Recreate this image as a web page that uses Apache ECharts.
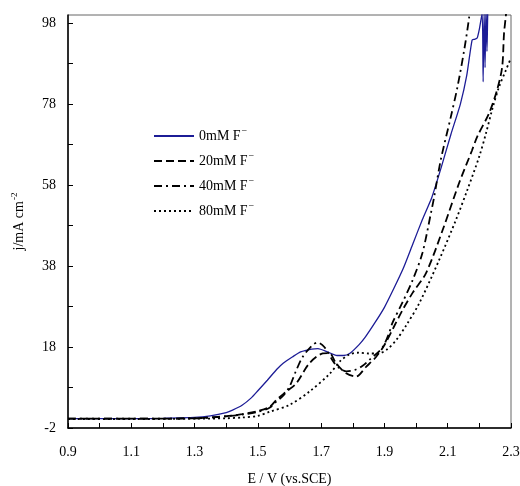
<!DOCTYPE html>
<html>
<head>
<meta charset="utf-8">
<script src="https://cdn.jsdelivr.net/npm/echarts@6/dist/echarts.min.js"></script>
<style>html,body{margin:0;padding:0;background:#fff}#c{width:520px;height:486px}</style>
</head>
<body>
<div id="c"></div>
<script>
// ---- data (E / V vs. SCE, j / mA cm^-2) ----
const names = ['0mM F', '20mM F', '40mM F', '80mM F'];
const xTickLabels = [0.9, 1.1, 1.3, 1.5, 1.7, 1.9, 2.1, 2.3];
const yTickLabels = [-2, 18, 38, 58, 78, 98];

const e0 = [0.9, 1.0, 1.1, 1.2, 1.3, 1.35, 1.4, 1.42, 1.45, 1.48, 1.5, 1.53, 1.56, 1.58, 1.61, 1.635, 1.67, 1.69, 1.72, 1.75, 1.77, 1.79, 1.82, 1.84, 1.87, 1.9, 1.93, 1.96, 1.99, 2.02, 2.05, 2.08, 2.11, 2.14, 2.16, 2.177, 2.185, 2.193, 2.2, 2.209, 2.212, 2.215, 2.218, 2.221, 2.224, 2.227, 2.23];
const j0 = [0.3, 0.3, 0.3, 0.4, 0.6, 1.0, 1.8, 2.4, 3.6, 5.5, 7.2, 9.8, 12.5, 14.0, 15.6, 16.8, 17.5, 17.6, 16.8, 15.9, 15.9, 16.4, 18.6, 20.5, 24.0, 27.8, 32.5, 37.5, 43.5, 49.5, 55.0, 62.5, 70.5, 78.0, 85.0, 93.8, 94.0, 94.3, 96.5, 100.5, 83.5, 101, 87, 102, 91, 102, 103];

const e20 = [0.9, 1.1, 1.3, 1.4, 1.45, 1.5, 1.537, 1.558, 1.59, 1.621, 1.663, 1.705, 1.726, 1.747, 1.779, 1.81, 1.842, 1.874, 1.9, 1.93, 1.957, 1.99, 2.031, 2.084, 2.136, 2.177, 2.193, 2.231, 2.256, 2.272, 2.278, 2.284, 2.287];
const j20 = [0.3, 0.3, 0.4, 0.9, 1.4, 2.2, 3.2, 4.9, 7.0, 9.0, 14.0, 16.4, 16.5, 14.0, 11.5, 10.7, 13.1, 15.6, 18.5, 23.0, 27.1, 31.5, 36.2, 46.9, 58.5, 66.6, 69.9, 75.8, 81.5, 87.1, 95.5, 100, 103];

const e40 = [0.9, 1.1, 1.3, 1.4, 1.45, 1.5, 1.537, 1.558, 1.58, 1.6, 1.62, 1.642, 1.673, 1.689, 1.71, 1.742, 1.758, 1.78, 1.805, 1.83, 1.852, 1.893, 1.915, 1.925, 1.957, 1.989, 2.02, 2.047, 2.057, 2.078, 2.11, 2.131, 2.152, 2.168, 2.172];
const j40 = [0.3, 0.3, 0.4, 0.9, 1.3, 2.0, 3.0, 4.5, 6.0, 8.2, 12.0, 15.6, 18.5, 19.1, 18.0, 14.0, 12.8, 12.0, 12.3, 13.3, 14.8, 17.8, 21.5, 23.9, 29.0, 34.5, 41.2, 51.1, 55.0, 64.2, 74.9, 82.3, 91.3, 99.6, 103];

const e80 = [0.9, 1.1, 1.3, 1.4, 1.45, 1.5, 1.537, 1.6, 1.663, 1.726, 1.76, 1.79, 1.82, 1.85, 1.88, 1.91, 1.94, 1.97, 2.01, 2.073, 2.126, 2.162, 2.199, 2.221, 2.24, 2.262, 2.284, 2.3];
const j80 = [0.2, 0.2, 0.3, 0.4, 0.6, 1.0, 2.0, 3.7, 7.0, 11.3, 14.5, 16.2, 16.6, 16.4, 16.4, 17.5, 20.0, 23.5, 28.8, 39.5, 49.4, 56.8, 64.9, 70.8, 76.5, 82.2, 86.4, 89.4];

const pairs = (xs, ys) => xs.map((x, i) => [x, ys[i]]);
const range = (a, b, s) => { const r = []; for (let v = a; v <= b + 1e-9; v += s) r.push(+v.toFixed(2)); return r; };

const FONT = '"Liberation Serif", "DejaVu Serif", serif';

const chart = echarts.init(document.getElementById('c'), null, { renderer: 'canvas' });
chart.setOption({
  backgroundColor: '#fff',
  animation: false,
  grid: { left: 68, right: 9, top: 15, bottom: 58, outerBoundsMode: 'none', containLabel: false,
    show: true, borderColor: '#666', borderWidth: 1, backgroundColor: 'transparent' },
  legend: {
    orient: 'vertical', left: 148, top: 121,
    itemWidth: 40, itemHeight: 14, itemGap: 8,
    data: names,
    itemStyle: { opacity: 0, borderWidth: 0 },
    formatter: n => n + '{sup|−}',
    textStyle: { fontFamily: FONT, fontSize: 14, color: '#000',
      rich: { sup: { fontFamily: FONT, fontSize: 10, color: '#000', verticalAlign: 'top', padding: [0, 0, 10, 1] } } }
  },
  xAxis: {
    type: 'value', min: 0.9, max: 2.3,
    name: 'E / V (vs.SCE)', nameLocation: 'middle', nameGap: 44,
    nameTextStyle: { fontFamily: FONT, fontSize: 14, color: '#000' },
    axisLine: { show: true, onZero: false, lineStyle: { color: '#000', width: 1.5 } },
    axisTick: { show: true, inside: true, length: 5, customValues: range(0.9, 2.3, 0.1), lineStyle: { color: '#000' } },
    axisLabel: { customValues: xTickLabels, margin: 17, fontFamily: FONT, fontSize: 14, color: '#000', formatter: v => (+v).toFixed(1) },
    splitLine: { show: false }
  },
  yAxis: {
    type: 'value', min: -2, max: 100,
    name: 'j/mA cm{sup|-2}', nameLocation: 'middle', nameGap: 39, nameRotate: 90,
    nameTextStyle: { fontFamily: FONT, fontSize: 14, color: '#000',
      rich: { sup: { fontFamily: FONT, fontSize: 9, color: '#000', verticalAlign: 'top', padding: [0, 0, 10, 1] } } },
    axisLine: { show: true, onZero: false, lineStyle: { color: '#000', width: 1.5 } },
    axisTick: { show: true, inside: true, length: 5, customValues: range(-2, 98, 10), lineStyle: { color: '#000' } },
    axisLabel: { customValues: yTickLabels, margin: 12, fontFamily: FONT, fontSize: 14, color: '#000', formatter: v => String(Math.round(v)) },
    splitLine: { show: false }
  },
  series: [
    { name: names[0], type: 'line', data: pairs(e0, j0), symbol: 'none', smooth: 0.2,
      lineStyle: { color: '#1c1c96', width: 1.3, type: 'solid' }, itemStyle: { color: '#1c1c96' } },
    { name: names[1], type: 'line', data: pairs(e20, j20), symbol: 'none', smooth: 0.3,
      lineStyle: { color: '#000', width: 1.8, type: [8, 4] }, itemStyle: { color: '#000' } },
    { name: names[2], type: 'line', data: pairs(e40, j40), symbol: 'none', smooth: 0.3,
      lineStyle: { color: '#000', width: 1.8, type: [8, 4, 2, 4] }, itemStyle: { color: '#000' } },
    { name: names[3], type: 'line', data: pairs(e80, j80), symbol: 'none', smooth: 0.3,
      lineStyle: { color: '#000', width: 1.8, type: [2, 3] }, itemStyle: { color: '#000' } }
  ]
});
</script>
</body>
</html>
